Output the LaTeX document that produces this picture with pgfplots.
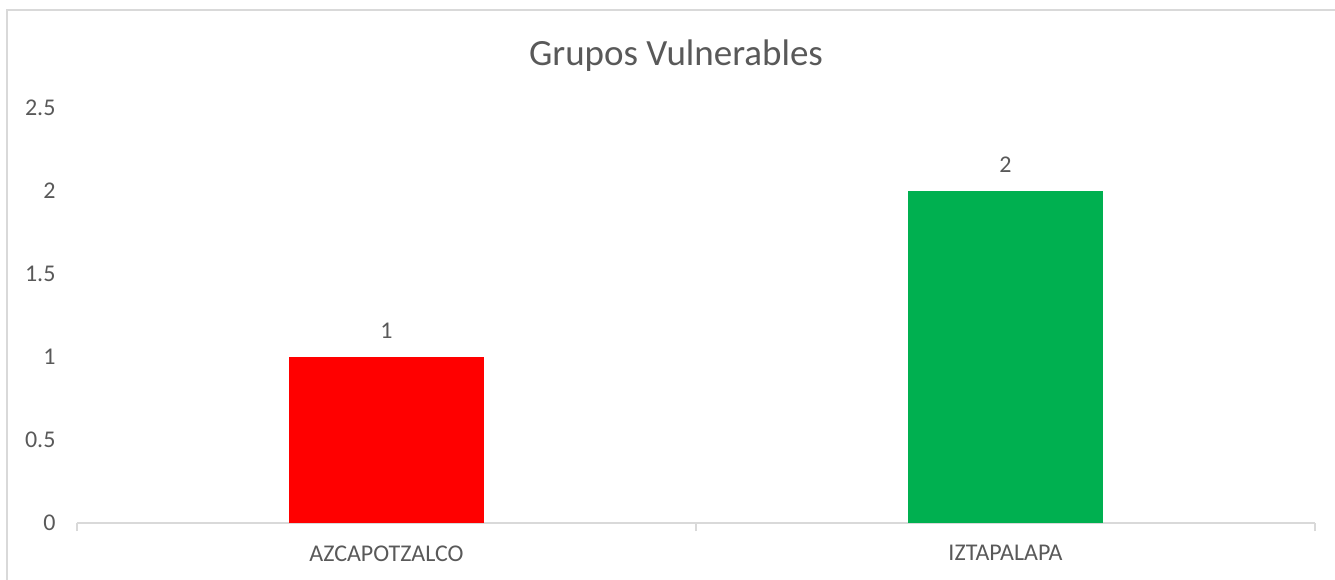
\documentclass[border=0pt]{standalone}
\usepackage{pgfplots}
\pgfplotsset{compat=1.18}
\usepackage{fontspec}
\setmainfont{Carlito}
\definecolor{txt}{HTML}{595959}
\definecolor{ax}{HTML}{D9D9D9}
\definecolor{barred}{HTML}{FF0000}
\definecolor{bargreen}{HTML}{00B050}
\begin{document}
\begin{tikzpicture}[x=1pt,y=1pt]
\useasboundingbox (-77,-57) rectangle (1258,523);
\draw[ax, line width=1.5pt] (-70,513) rectangle (1275,-75);
\node[anchor=base, text=txt, font=\fontsize{37}{44}\selectfont] at (599,457) {Grupos Vulnerables};
\begin{axis}[
  at={(0pt,0pt)}, anchor=south west,
  scale only axis, width=1238pt, height=415pt,
  xmin=-0.5, xmax=1.5, ymin=0, ymax=2.5,
  axis x line*=bottom, axis y line*=left,
  y axis line style={draw=none},
  x axis line style={draw=ax, line width=1.5pt},
  tick align=outside, major tick length=8pt,
  xtick={0,1}, xticklabels={AZCAPOTZALCO,IZTAPALAPA},
  x tick style={draw=none},
  extra x ticks={-0.5,0.5,1.5}, extra x tick labels={},
  extra x tick style={x tick style={draw=ax, line width=1.5pt}},
  ytick={0,0.5,1,1.5,2,2.5}, y tick style={draw=none},
  /pgf/number format/assume math mode=true,
  ticklabel style={font=\fontsize{24}{28}\selectfont, text=txt},
  yticklabel style={anchor=east, xshift=-10pt},
  xticklabel style={anchor=north, yshift=-11pt},
  nodes near coords style={font=\fontsize{24}{28}\selectfont, text=txt, anchor=south, yshift=15pt},
]
\addplot[ybar, bar width=195pt, bar shift=0pt, fill=barred, draw=none, nodes near coords] coordinates {(0,1)};
\addplot[ybar, bar width=195pt, bar shift=0pt, fill=bargreen, draw=none, nodes near coords] coordinates {(1,2)};
\end{axis}
\end{tikzpicture}
\end{document}
